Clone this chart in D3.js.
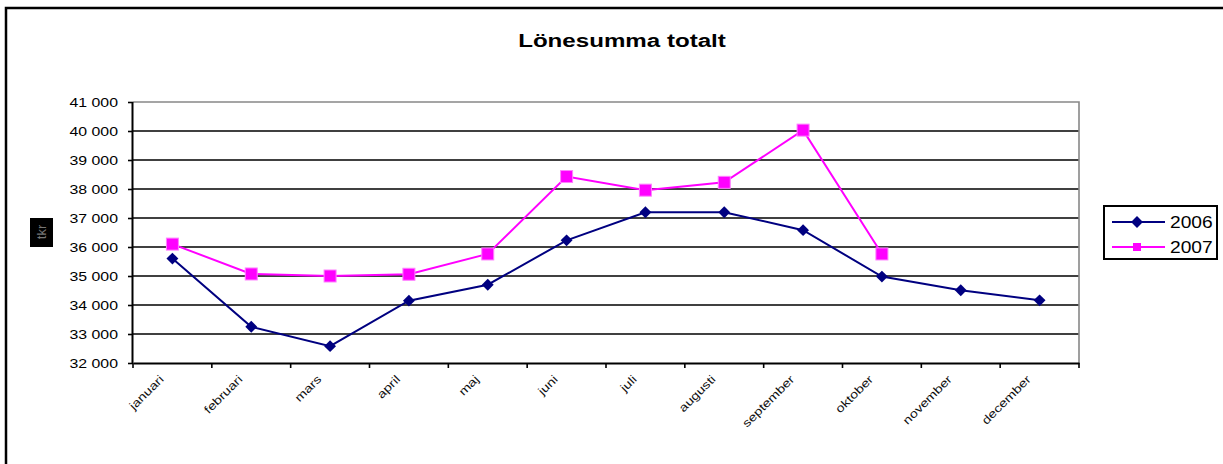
<!DOCTYPE html>
<html>
<head>
<meta charset="utf-8">
<script src="https://cdn.jsdelivr.net/npm/d3@7"></script>
<style>
  body { margin: 0; background: #fff; }
  svg { display: block; font-family: "Liberation Sans", Arial, sans-serif; }
</style>
</head>
<body>
<svg id="chart" width="1223" height="464"></svg>
<script>
// Chart data
const months = ["januari", "februari", "mars", "april", "maj", "juni", "juli",
  "augusti", "september", "oktober", "november", "december"];
const values2006 = [35600, 33250, 32580, 34150, 34700, 36230, 37200, 37200, 36580, 34980, 34510, 34160];
const values2007 = [36100, 35070, 35000, 35060, 35760, 38430, 37960, 38230, 40030, 35760];
const seriesNames = ["2006", "2007"];
const yTicks = [32000, 33000, 34000, 35000, 36000, 37000, 38000, 39000, 40000, 41000];

const conf = {
  left: 133, right: 1079, top: 102, bottom: 363,
  navy: "#000080", magenta: "#ff00ff"
};

const svg = d3.select("#chart");

// outer chart border (runs off the right and bottom of the window)
svg.append("rect")
  .attr("x", 6).attr("y", 8)
  .attr("width", 1240).attr("height", 480)
  .attr("fill", "none").attr("stroke", "#000").attr("stroke-width", 2.5);

// title is drawn a bit wide, like the original export
svg.append("text")
  .attr("transform", "translate(622,47) scale(1.27,1)")
  .attr("text-anchor", "middle")
  .attr("font-weight", "bold").attr("font-size", 19)
  .text("Lönesumma totalt");

const x = d3.scaleBand().domain(months).range([conf.left, conf.right]).padding(0);
const y = d3.scaleLinear().domain([32000, 41000]).range([conf.bottom, conf.top]);
const cx = m => x(m) + x.bandwidth() / 2;

const fmt = v => d3.format(",")(v).replace(",", " ");

// gridlines
svg.append("g").selectAll("line")
  .data(yTicks.filter(t => t > 32000 && t < 41000))
  .join("line")
  .attr("x1", conf.left).attr("x2", conf.right)
  .attr("y1", d => y(d)).attr("y2", d => y(d))
  .attr("stroke", "#000").attr("stroke-width", 1.6);

// plot area border top/right
svg.append("path")
  .attr("d", `M${conf.left},${conf.top}H${conf.right}V${conf.bottom}`)
  .attr("fill", "none").attr("stroke", "#888").attr("stroke-width", 1.6);

// y axis
const yAxis = svg.append("g")
  .attr("transform", `translate(${conf.left},0)`)
  .call(d3.axisLeft(y).tickValues(yTicks).tickSize(5).tickFormat(""));
yAxis.select(".domain").attr("stroke-width", 2).attr("d", `M-0.5,${conf.top}V${conf.bottom}`);
yAxis.selectAll(".tick line").attr("stroke-width", 1.6);

svg.append("g").selectAll("text")
  .data(yTicks)
  .join("text")
  .attr("transform", d => `translate(118,${y(d) + 5}) scale(1.22,1)`)
  .attr("text-anchor", "end")
  .attr("font-size", 13)
  .text(fmt);

// x axis
const xAxis = svg.append("g")
  .attr("transform", `translate(0,${conf.bottom})`)
  .call(d3.axisBottom(x).tickSize(0).tickFormat(""));
xAxis.select(".domain").attr("stroke-width", 2);
svg.append("g").selectAll("line")
  .data(months.concat(["end"]))
  .join("line")
  .attr("x1", (d, i) => conf.left + i * x.bandwidth())
  .attr("x2", (d, i) => conf.left + i * x.bandwidth())
  .attr("y1", conf.bottom).attr("y2", conf.bottom + 5)
  .attr("stroke", "#000").attr("stroke-width", 1.6);

svg.append("g").selectAll("text")
  .data(months)
  .join("text")
  .attr("transform", d => `translate(${cx(d) - 8},${conf.bottom + 17}) rotate(-45) scale(1.25,1)`)
  .attr("text-anchor", "end")
  .attr("font-size", 11.5)
  .attr("fill", "#111")
  .text(d => d);

// y axis title box
svg.append("rect")
  .attr("x", 30).attr("y", 218).attr("width", 23).attr("height", 29)
  .attr("fill", "#000");
svg.append("text")
  .attr("transform", "translate(46,232) rotate(-90)")
  .attr("text-anchor", "middle")
  .attr("font-size", 13)
  .attr("fill", "#777")
  .text("tkr");

// series
const line = d3.line().x((d, i) => cx(months[i])).y(d => y(d));
const diamond = d3.symbol().type(d3.symbolDiamond2).size(90);

svg.append("path")
  .attr("d", line(values2006))
  .attr("fill", "none").attr("stroke", conf.navy).attr("stroke-width", 2);
svg.append("path")
  .attr("d", line(values2007))
  .attr("fill", "none").attr("stroke", conf.magenta).attr("stroke-width", 2);

svg.append("g").selectAll("path")
  .data(values2006)
  .join("path")
  .attr("transform", (d, i) => `translate(${cx(months[i])},${y(d)})`)
  .attr("d", diamond)
  .attr("fill", conf.navy);

svg.append("g").selectAll("rect")
  .data(values2007)
  .join("rect")
  .attr("x", (d, i) => cx(months[i]) - 6)
  .attr("y", d => y(d) - 6)
  .attr("width", 12).attr("height", 12)
  .attr("fill", conf.magenta)
  .attr("stroke", "#ff80ff").attr("stroke-width", 1);

// legend
const legend = svg.append("g");
legend.append("rect")
  .attr("x", 1104).attr("y", 206).attr("width", 113).attr("height", 53)
  .attr("fill", "#fff").attr("stroke", "#000").attr("stroke-width", 2);

const legY = d3.scalePoint().domain(seriesNames).range([222, 247]);
const legColor = d3.scaleOrdinal().domain(seriesNames).range([conf.navy, conf.magenta]);

legend.selectAll("line")
  .data(seriesNames)
  .join("line")
  .attr("x1", 1112).attr("x2", 1165)
  .attr("y1", d => legY(d)).attr("y2", d => legY(d))
  .attr("stroke", d => legColor(d)).attr("stroke-width", 2);

legend.append("path")
  .attr("transform", `translate(1137,${legY("2006")})`)
  .attr("d", diamond)
  .attr("fill", conf.navy);
legend.append("rect")
  .attr("x", 1133).attr("y", legY("2007") - 4)
  .attr("width", 8).attr("height", 8)
  .attr("fill", conf.magenta);

legend.selectAll("text")
  .data(seriesNames)
  .join("text")
  .attr("transform", d => `translate(1170,${legY(d) + 6}) scale(1.2,1)`)
  .attr("font-size", 16)
  .text(d => d);
</script>
</body>
</html>
